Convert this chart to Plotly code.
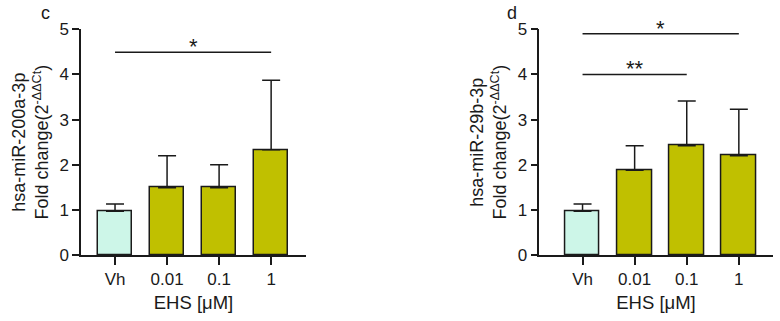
import plotly.graph_objects as go

categories = ["Vh", "0.01", "0.1", "1"]
c_means = [0.97, 1.49, 1.49, 2.33]
c_err = [0.16, 0.71, 0.51, 1.54]
d_means = [0.97, 1.88, 2.42, 2.20]
d_err = [0.16, 0.54, 0.99, 1.03]
bar_colors = ["#cdf6e8", "#c0c000", "#c0c000", "#c0c000"]
c_title = "hsa-miR-200a-3p<br>Fold change(2<sup>-ΔΔCt</sup>)"
d_title = "hsa-miR-29b-3p<br>Fold change(2<sup>-ΔΔCt</sup>)"
x_title = "EHS [μM]"
# significance brackets: (panel, start idx, end idx, y, label)
sig = [("c", 0, 3, 4.49, "*"), ("d", 0, 2, 4.0, "**"), ("d", 0, 3, 4.9, "*")]

FONT = "Liberation Sans"
INK = "#1a1a1a"
W, H = 780, 321

fig = go.Figure()
for i, (means, err) in enumerate([(c_means, c_err), (d_means, d_err)]):
    xa = "x" if i == 0 else "x2"
    ya = "y" if i == 0 else "y2"
    fig.add_trace(go.Bar(
        x=list(range(len(categories))), y=means, xaxis=xa, yaxis=ya,
        width=0.66,
        marker=dict(color=bar_colors, line=dict(color=INK, width=1.5)),
        error_y=dict(type="data", array=err, arrayminus=[0] * len(err), symmetric=False,
                     color=INK, thickness=1.5, width=9),
        showlegend=False, hoverinfo="skip",
    ))

def xax(domain, rng, anchor):
    return dict(domain=domain, range=rng, anchor=anchor, automargin=False,
                tickmode="array", tickvals=list(range(len(categories))),
                ticktext=categories, showline=True, linecolor=INK, linewidth=1.5,
                ticks="outside", ticklen=8, tickwidth=1.5, tickcolor=INK,
                showgrid=False, zeroline=False, tickfont=dict(size=17, family=FONT, color=INK),
                title=dict(text=x_title, font=dict(size=18.5, family=FONT, color=INK), standoff=8))

def yax(domain, title, anchor):
    return dict(domain=domain, range=[0, 5], anchor=anchor, automargin=False,
                tickvals=[0, 1, 2, 3, 4, 5], showline=True,
                linecolor=INK, linewidth=1.5, ticks="outside", ticklen=7, tickwidth=1.5,
                tickcolor=INK, showgrid=False, zeroline=False,
                tickfont=dict(size=17, family=FONT, color=INK),
                title=dict(text=title, font=dict(size=18, family=FONT, color=INK), standoff=6))

ydom = [(H - 255) / H, (H - 29.3) / H]
fig.update_layout(
    width=W, height=H, margin=dict(l=0, r=0, t=0, b=0, autoexpand=False),
    plot_bgcolor="white", paper_bgcolor="white", bargap=0,
    xaxis=xax([81 / W, 306 / W], [-0.654, 3.67], "y"),
    yaxis=yax(ydom, c_title, "x"),
    xaxis2=xax([539.3 / W, 772.7 / W], [-0.83, 3.65], "y2"),
    yaxis2=yax(ydom, d_title, "x2"),
)

shapes = []
annotations = []
for panel, a, b, yv, lab in sig:
    xr = "x" if panel == "c" else "x2"
    yr = "y" if panel == "c" else "y2"
    shapes.append(dict(type="line", xref=xr, yref=yr, x0=a, x1=b, y0=yv, y1=yv,
                       line=dict(color=INK, width=1.5)))
    annotations.append(dict(xref=xr, yref=yr, x=(a + b) / 2, y=yv, text=lab, showarrow=False,
                            xanchor="center", yanchor="bottom", yshift=-9,
                            font=dict(size=22, family=FONT, color=INK)))
annotations.append(dict(xref="paper", yref="paper", x=45 / W, y=(H - 13) / H, text="c",
                        xanchor="center", yanchor="middle",
                        showarrow=False, font=dict(size=18, family=FONT, color=INK)))
annotations.append(dict(xref="paper", yref="paper", x=512 / W, y=(H - 13) / H, text="d",
                        xanchor="center", yanchor="middle",
                        showarrow=False, font=dict(size=18, family=FONT, color=INK)))
fig.update_layout(shapes=shapes, annotations=annotations)

fig.write_html("out.html")
